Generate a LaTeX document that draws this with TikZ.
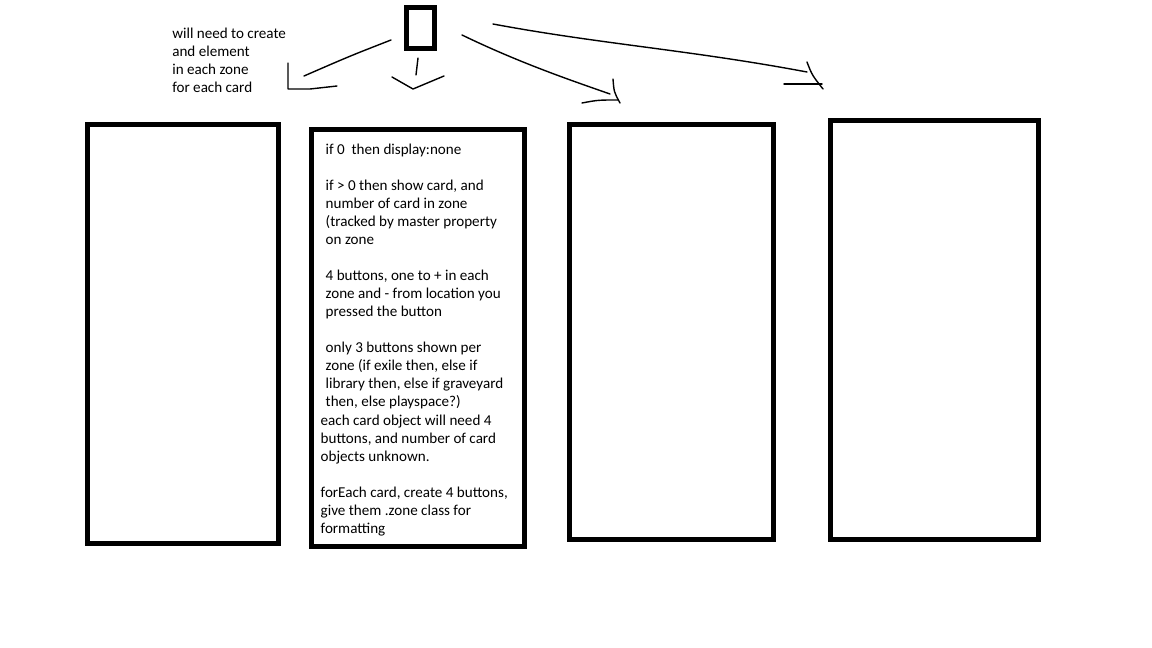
\documentclass[tikz,border=0pt]{standalone}
\usepackage{fontspec}
\setmainfont{Carlito}
\begin{document}
\begin{tikzpicture}[x=1pt,y=-1pt,
  zonebox/.style={draw=black,line width=5pt,inner sep=0pt,outer sep=0pt},
  stroke/.style={draw=black,line width=1.4pt,line cap=round,line join=round},
  note/.style={inner sep=0pt,outer sep=0pt,anchor=base west,align=left,
    font=\fontsize{15.1}{18}\selectfont}]
\useasboundingbox[fill=white] (0,0) rectangle (1152,648);
% card icon
\node[zonebox,minimum width=28pt,minimum height=40.5pt] (card) at (420.5,27.75) {};
% zones
\node[zonebox,minimum width=191pt,minimum height=419pt] (z1) at (183,334) {};
\node[zonebox,minimum width=213pt,minimum height=416.5pt] (z2) at (418,337.75) {};
\node[zonebox,minimum width=204pt,minimum height=414.5pt] (z3) at (671.5,331.75) {};
\node[zonebox,minimum width=208pt,minimum height=418.5pt] (z4) at (934.5,329.75) {};
% left note (anchored at the baseline of its last line)
\node[note] (n0) at (172.3,92.5) {will need to create\\and element\\in each zone\\for each card};
% zone 2 text (anchored at the baseline of the last line)
\node[note] (t1) at (325.7,406) {if 0\ \ then display:none\\[18pt]if > 0 then show card, and\\number of card in zone\\(tracked by master property\\on zone\\[18pt]4 buttons, one to + in each\\zone and - from location you\\pressed the button\\[18pt]only 3 buttons shown per\\zone (if exile then, else if\\library then, else if graveyard\\then, else playspace?)};
\node[note] (t2) at (320.7,533.3) {each card object will need 4\\buttons, and number of card\\objects unknown.\\[18pt]forEach card, create 4 buttons,\\give them .zone class for\\formatting};
% connector coordinates
\coordinate (a1s) at (391,40);
\coordinate (a1e) at (304,76);
\coordinate (b1) at (288,63);
\coordinate (b2) at (288,89);
\coordinate (b3) at (310,89);
\coordinate (b4) at (337,86);
\coordinate (a2s) at (418,58);
\coordinate (a2e) at (416,75);
\coordinate (v1) at (392,77);
\coordinate (v2) at (413,89);
\coordinate (v3) at (444,76);
\coordinate (a3s) at (462,35);
\coordinate (a3e) at (610,94);
\coordinate (h3a) at (613,79);
\coordinate (h3b) at (620,103);
\coordinate (h3c) at (582,103);
\coordinate (h3d) at (618,100);
\coordinate (a4s) at (493,24);
\coordinate (a4e) at (807,72);
\coordinate (h4a) at (807,62);
\coordinate (h4b) at (823,89);
\coordinate (h4c) at (784,84);
\coordinate (h4d) at (822,84);
% strokes
\draw[stroke] (a1s) .. controls (350,56) .. (a1e);
\draw[stroke] (b1) -- (b2) -- (b3) -- (b4);
\draw[stroke] (a2s) -- (a2e);
\draw[stroke] (v1) -- (v2) -- (v3);
\draw[stroke] (a3s) .. controls (520,63) and (570,80) .. (a3e);
\draw[stroke] (h3a) .. controls (614,92) .. (h3b);
\draw[stroke] (h3c) .. controls (598,100) .. (h3d);
\draw[stroke] (a4s) .. controls (600,44) and (690,50) .. (a4e);
\draw[stroke] (h4a) .. controls (812,75) .. (h4b);
\draw[stroke] (h4c) -- (h4d);
\end{tikzpicture}
\end{document}
